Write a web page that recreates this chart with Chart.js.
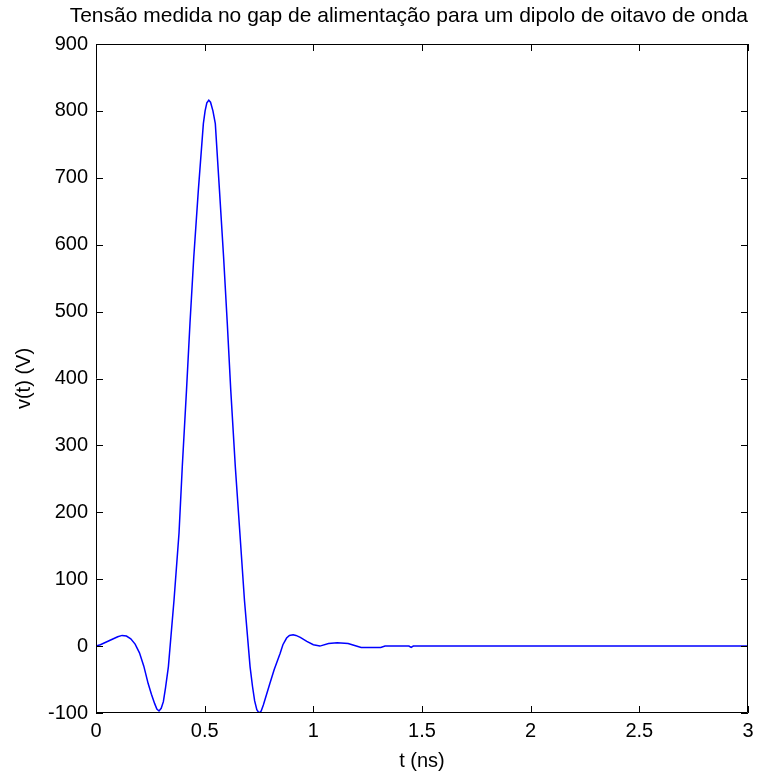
<!DOCTYPE html>
<html>
<head>
<meta charset="utf-8">
<title>Tensão no gap</title>
<script src="https://cdn.jsdelivr.net/npm/chart.js@4/dist/chart.umd.min.js"></script>
<style>
  html, body { margin: 0; padding: 0; background: #fff; }
  #wrap { width: 768px; height: 773px; }
</style>
</head>
<body>
<div id="wrap"><canvas id="tensaoChart" width="768" height="773"></canvas></div>
<script>
// tempo (ns) e tensão (V) no gap de alimentação
const tempos = [0, 0.02, 0.04, 0.06, 0.08, 0.1, 0.12, 0.14, 0.16, 0.18, 0.2, 0.22, 0.24, 0.255,
    0.27, 0.28, 0.29, 0.3, 0.31, 0.32, 0.333, 0.359, 0.382, 0.397, 0.4165, 0.4325, 0.45, 0.471,
    0.494, 0.502, 0.51, 0.519, 0.527, 0.538, 0.549, 0.568, 0.587, 0.604, 0.62, 0.641, 0.662,
    0.683, 0.709, 0.72, 0.73, 0.74, 0.75, 0.76, 0.77, 0.785, 0.8, 0.82, 0.847, 0.86, 0.877,
    0.89, 0.907, 0.92, 0.94, 0.97, 1.0, 1.03, 1.07, 1.11, 1.16, 1.19, 1.22, 1.31, 1.33,
    1.44, 1.45, 1.46, 2.0, 2.5, 3.0];
const tensoes = [0, 2, 5, 8, 11, 14, 16, 15, 11, 3, -10, -30, -56, -72,
    -86, -94, -97, -93, -83, -62, -31, 69, 169, 268, 383, 483, 582, 682,
    781, 800, 812, 816, 813, 800, 781, 682, 582, 483, 383, 268, 169,
    69, -31, -60, -82, -95, -100, -97, -88, -72, -56, -35, -11, 2, 12,
    16, 17, 16, 13, 7, 2, 0, 4, 5, 4, 1, -2, -2, 0,
    0, -2, 0, 0, 0, 0];
const ticksX = [0, 0.5, 1, 1.5, 2, 2.5, 3];
const ticksY = [-100, 0, 100, 200, 300, 400, 500, 600, 700, 800, 900];

const fonte = "'Liberation Sans', Arial, sans-serif";

// caixa dos eixos com marcas para dentro, estilo MATLAB
const caixaEixos = {
    id: 'caixaEixos',
    afterDatasetsDraw(chart) {
        const { ctx, chartArea: a, scales } = chart;
        const len = 7;
        ctx.save();
        ctx.strokeStyle = '#000';
        ctx.lineWidth = 1;
        ctx.beginPath();
        ctx.rect(a.left + 0.5, a.top + 0.5, a.right - a.left - 1, a.bottom - a.top - 1);
        ticksX.forEach(v => {
            const px = Math.round(scales.x.getPixelForValue(v)) + 0.5;
            ctx.moveTo(px, a.bottom); ctx.lineTo(px, a.bottom - len);
            ctx.moveTo(px, a.top); ctx.lineTo(px, a.top + len);
        });
        ticksY.forEach(v => {
            const py = Math.round(scales.y.getPixelForValue(v)) + 0.5;
            ctx.moveTo(a.left, py); ctx.lineTo(a.left + len, py);
            ctx.moveTo(a.right, py); ctx.lineTo(a.right - len, py);
        });
        ctx.stroke();
        ctx.restore();
    }
};

const ctx = document.getElementById('tensaoChart').getContext('2d');
const tensaoChart = new Chart(ctx, {
    type: 'line',
    data: {
        datasets: [{
            label: 'v(t)',
            data: tempos.map((t, i) => ({ x: t, y: tensoes[i] })),
            borderColor: '#0000ff',
            borderWidth: 1.5,
            pointRadius: 0,
            fill: false,
            tension: 0
        }]
    },
    options: {
        responsive: false,
        animation: false,
        layout: { padding: { left: 0, right: 20, top: 0, bottom: 0 } },
        plugins: {
            legend: { display: false },
            tooltip: { enabled: false },
            title: {
                display: true,
                text: 'Tensão medida no gap de alimentação para um dipolo de oitavo de onda',
                align: 'end',
                color: '#000',
                font: { family: fonte, size: 21, weight: 'normal' },
                padding: { top: 4, bottom: 14.8 }
            }
        },
        scales: {
            x: {
                type: 'linear',
                min: 0,
                max: 3,
                afterFit: s => { s.height = 60; },
                afterBuildTicks: s => { s.ticks = ticksX.map(v => ({ value: v })); },
                grid: { display: false, drawTicks: false },
                border: { display: false },
                ticks: {
                    color: '#000',
                    padding: 6,
                    maxRotation: 0,
                    font: { family: fonte, size: 20 },
                    callback: v => String(v)
                },
                title: {
                    display: true,
                    text: 't (ns)',
                    color: '#000',
                    font: { family: fonte, size: 20 },
                    padding: 0
                }
            },
            y: {
                min: -100,
                max: 900,
                afterFit: s => { s.width = 96; },
                afterBuildTicks: s => { s.ticks = ticksY.map(v => ({ value: v })); },
                grid: { display: false, drawTicks: false },
                border: { display: false },
                ticks: {
                    color: '#000',
                    padding: 8,
                    font: { family: fonte, size: 20 },
                    callback: v => String(v)
                },
                title: {
                    display: true,
                    text: 'v(t) (V)',
                    color: '#000',
                    font: { family: fonte, size: 20 },
                    padding: 12
                }
            }
        }
    },
    plugins: [caixaEixos]
});
</script>
</body>
</html>
